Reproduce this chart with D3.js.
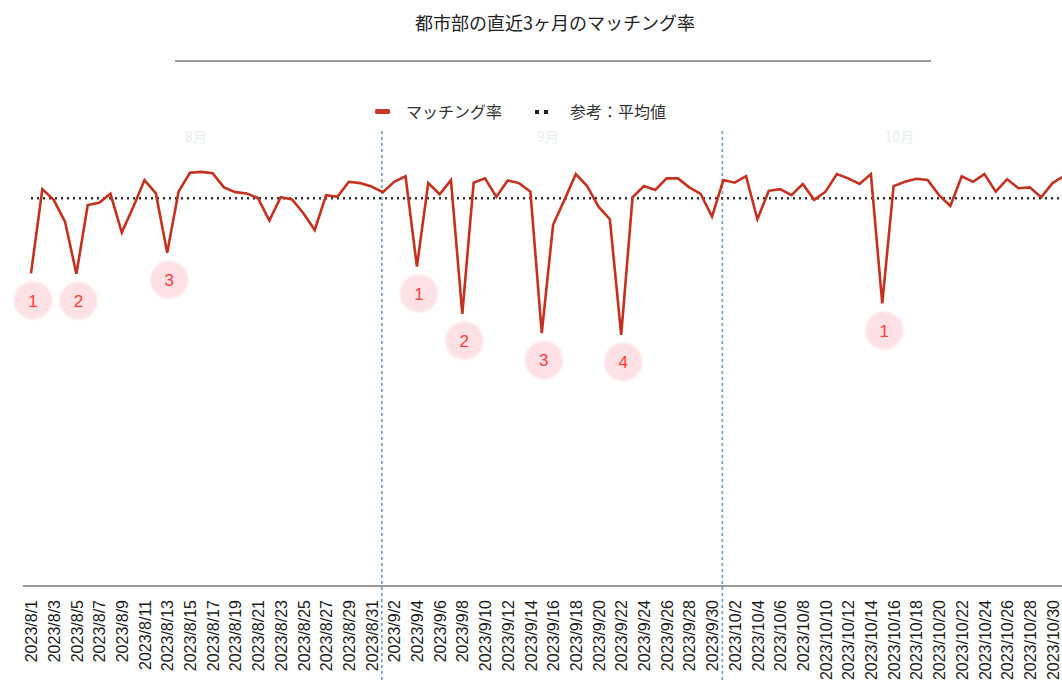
<!DOCTYPE html>
<html>
<head>
<meta charset="utf-8">
<script src="https://cdn.jsdelivr.net/npm/d3@7"></script>
<style>
  html, body { margin: 0; padding: 0; background: #fff; }
  svg { display: block; }
</style>
</head>
<body>
<svg id="chart" width="1062" height="686"></svg>
<script>
// ---- data ----
const startDate = "2023-08-01";
const endDate = "2023-10-31";
const matchingRate = [
  72.7, 92.3, 89.8, 84.7, 72.6, 88.6, 89.1, 91.2, 82.2, 88.1,
  94.4, 91.3, 77.5, 91.7, 96.1, 96.3, 96.0, 92.7, 91.6, 91.3,
  90.2, 85.0, 90.4, 89.9, 86.7, 82.8, 90.9, 90.5, 94.0, 93.7, 92.9,
  91.6, 94.0, 95.3, 74.3, 93.7, 91.1, 94.4, 63.3, 93.8, 94.8,
  90.5, 94.3, 93.7, 91.7, 58.8, 84.0, 89.8, 95.8, 93.0, 88.2,
  85.3, 58.4, 90.4, 93.0, 92.1, 94.8, 94.8, 92.7, 91.2, 85.9,
  94.4, 93.8, 95.3, 85.3, 91.9, 92.3, 90.9, 93.5, 89.8, 91.7,
  95.8, 94.8, 93.5, 95.8, 65.7, 93.0, 94.0, 94.7, 94.4, 90.9,
  88.4, 95.3, 94.0, 95.8, 91.7, 94.6, 92.5, 92.7, 90.4, 93.7, 95.3
];
const averageRate = 90.2;
const monthStarts = ["2023-09-01", "2023-10-01"];
const monthLabels = ["8月", "9月", "10月"];
const monthLabelDates = ["2023-08-15", "2023-09-15", "2023-10-16"];
const annotationDates = ["2023-08-01", "2023-08-05", "2023-08-13", "2023-09-04", "2023-09-08", "2023-09-15", "2023-09-22", "2023-10-15"];
const annotationLabels = ["1", "2", "3", "1", "2", "3", "4", "1"];
const titleText = "都市部の直近3ヶ月のマッチング率";
const seriesName = "マッチング率";
const averageName = "参考：平均値";

// ---- setup ----
const parse = d3.utcParse("%Y-%m-%d");
const dates = d3.utcDay.range(parse(startDate), d3.utcDay.offset(parse(endDate), 1));
const data = dates.map((d, i) => ({ date: d, value: matchingRate[i] }));
const tickDates = dates.filter((d, i) => i % 2 === 0 && d <= parse("2023-10-30"));
const fmt = d => `${d.getUTCFullYear()}/${d.getUTCMonth() + 1}/${d.getUTCDate()}`;

const W = 1062, H = 686;
const svg = d3.select("#chart");
const x = d3.scaleUtc().domain([parse("2023-08-01"), parse("2023-10-30")]).range([31, 1052.5]);
const y = d3.scaleLinear().domain([0, 100]).range([586, 156]);
const axisY = y(0);

const font = "'Liberation Sans', Arial, sans-serif";
const jpFont = "'Noto Sans CJK JP', 'Noto Sans', sans-serif";

// title
svg.append("text")
  .attr("x", 555).attr("y", 30)
  .attr("text-anchor", "middle")
  .attr("font-family", jpFont).attr("font-size", 18)
  .attr("fill", "#222")
  .text(titleText);
svg.append("line")
  .attr("x1", 175).attr("x2", 931).attr("y1", 61).attr("y2", 61)
  .attr("stroke", "#9a9a9a").attr("stroke-width", 2);

// legend
const lg = svg.append("g").attr("transform", "translate(0,112)");
lg.append("rect").attr("x", 375).attr("y", -3).attr("width", 15).attr("height", 5).attr("rx", 1.5)
  .attr("fill", "#c8392b");
lg.append("text").attr("x", 406).attr("y", 0).attr("dy", "0.35em")
  .attr("font-family", jpFont).attr("font-size", 16).attr("fill", "#333").text(seriesName);
lg.append("rect").attr("x", 535).attr("y", -2).attr("width", 4).attr("height", 4).attr("fill", "#222");
lg.append("rect").attr("x", 544).attr("y", -2).attr("width", 4).attr("height", 4).attr("fill", "#222");
lg.append("text").attr("x", 570).attr("y", 0).attr("dy", "0.35em")
  .attr("font-family", jpFont).attr("font-size", 16).attr("fill", "#333").text(averageName);

// faint month labels
svg.append("g").selectAll("text").data(monthLabels).join("text")
  .attr("x", (d, i) => x(parse(monthLabelDates[i])) + 6)
  .attr("y", 137).attr("dy", "0.35em")
  .attr("text-anchor", "middle")
  .attr("font-family", jpFont).attr("font-size", 14)
  .attr("fill", "#e6eef3")
  .text(d => d);

// month separator lines
svg.append("g").selectAll("line").data(monthStarts).join("line")
  .attr("x1", d => x(parse(d)) - 1).attr("x2", d => x(parse(d)) - 1)
  .attr("y1", 131).attr("y2", 680)
  .attr("stroke", "#6f9cc8").attr("stroke-width", 1.6)
  .attr("stroke-dasharray", "3,3");

// x axis
svg.append("line")
  .attr("x1", 23).attr("x2", W).attr("y1", axisY).attr("y2", axisY)
  .attr("stroke", "#9a9a9a").attr("stroke-width", 2);
const xAxis = d3.axisBottom(x).tickValues(tickDates).tickFormat(fmt).tickSize(0);
const gx = svg.append("g").attr("transform", `translate(0,${axisY})`).call(xAxis);
gx.select(".domain").remove();
gx.selectAll("text")
  .attr("transform", "rotate(-90)")
  .attr("x", -14).attr("y", 0).attr("dy", "0.35em")
  .attr("text-anchor", "end")
  .attr("font-family", font).attr("font-size", 16)
  .attr("fill", "#1a1a1a");

// average dotted line
svg.append("line")
  .attr("x1", x(parse("2023-08-01"))).attr("x2", W)
  .attr("y1", y(averageRate)).attr("y2", y(averageRate))
  .attr("stroke", "#333").attr("stroke-width", 2.5)
  .attr("stroke-dasharray", "2,4");

// main line
const line = d3.line().x(d => x(d.date)).y(d => y(d.value));
svg.append("path").datum(data)
  .attr("d", line)
  .attr("fill", "none")
  .attr("stroke", "#c4321f")
  .attr("stroke-width", 2.6)
  .attr("stroke-linejoin", "miter");

// annotations
const defs = svg.append("defs");
defs.append("filter").attr("id", "soft").append("feGaussianBlur").attr("stdDeviation", 1.2);
const annos = annotationDates.map((d, i) => {
  const dt = parse(d);
  const v = data.find(p => +p.date === +dt).value;
  return { cx: x(dt) + 2, cy: y(v) + 27, label: annotationLabels[i] };
});
const ag = svg.append("g");
ag.selectAll("circle").data(annos).join("circle")
  .attr("cx", d => d.cx).attr("cy", d => d.cy).attr("r", 19)
  .attr("fill", "#fde1e5").attr("filter", "url(#soft)");
ag.selectAll("text").data(annos).join("text")
  .attr("x", d => d.cx).attr("y", d => d.cy).attr("dy", "0.36em")
  .attr("text-anchor", "middle")
  .attr("font-family", font).attr("font-size", 17)
  .attr("fill", "#ff3b3b")
  .text(d => d.label);
</script>
</body>
</html>
